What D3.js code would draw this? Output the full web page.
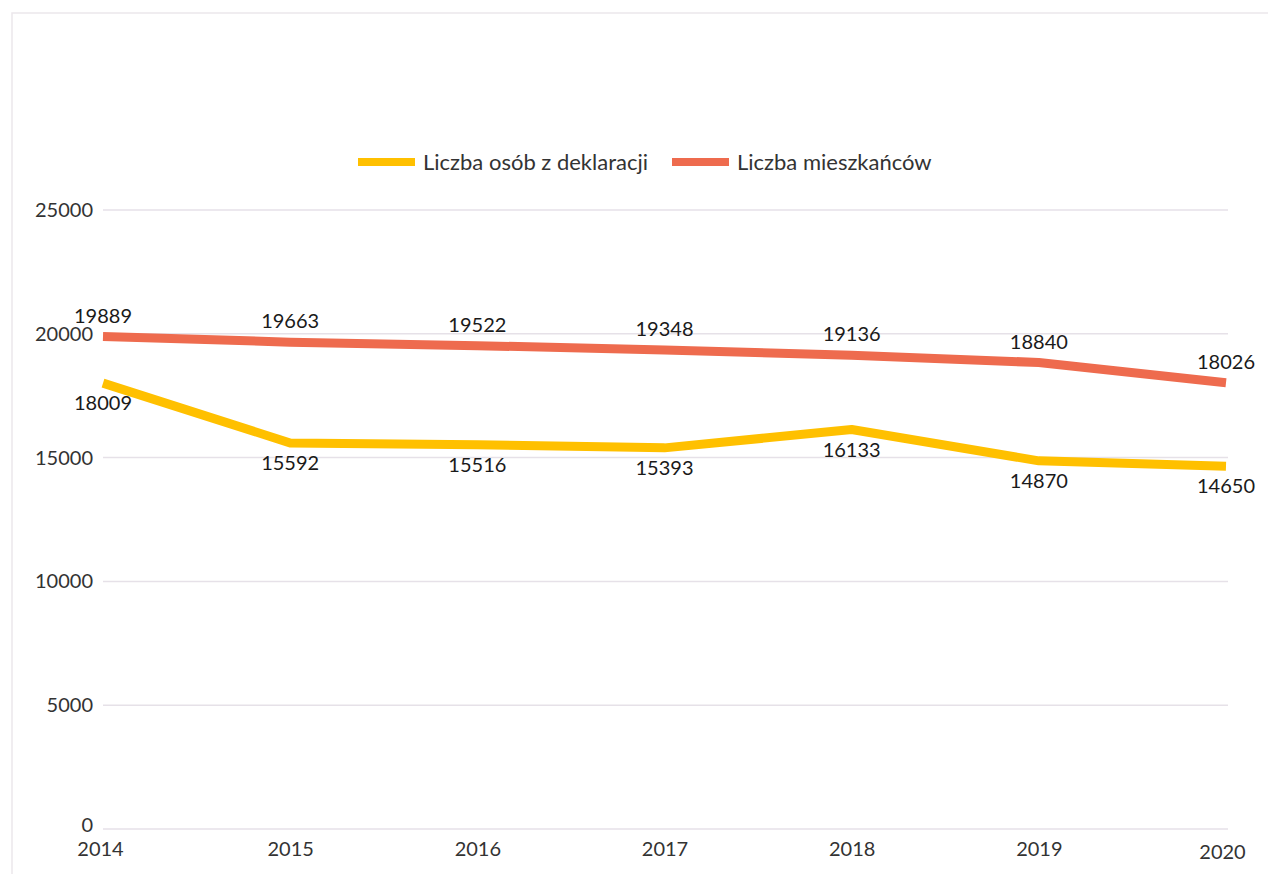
<!DOCTYPE html>
<html><head><meta charset="utf-8">
<script src="https://cdn.jsdelivr.net/npm/d3@7"></script>
<style>
html,body{margin:0;padding:0;background:#fff;}
svg{display:block;font-family:Lato,"Open Sans",sans-serif;}
</style></head>
<body>
<svg id="chart" width="1268" height="874"></svg>
<script>
const years = [2014, 2015, 2016, 2017, 2018, 2019, 2020];
const declarations = [18009, 15592, 15516, 15393, 16133, 14870, 14650];
const residents = [19889, 19663, 19522, 19348, 19136, 18840, 18026];
const yTicks = [0, 5000, 10000, 15000, 20000, 25000];
const seriesNames = ["Liczba osób z deklaracji", "Liczba mieszkańców"];
const seriesColors = ["#FFC000", "#EE6B4E"];

const svg = d3.select("#chart");
// faint scan frame
svg.append("path").attr("d","M12,874 L12,13 L1268,13").attr("fill","none").attr("stroke","#ece7ec").attr("stroke-width",1.5);

const x = d3.scalePoint().domain(years).range([103, 1226]);
const y = d3.scaleLinear().domain([0, 25000]).range([829, 210]);

// gridlines
svg.append("g").selectAll("line").data(yTicks).join("line")
  .attr("x1", 103).attr("x2", 1228)
  .attr("y1", d => y(d)).attr("y2", d => y(d))
  .attr("stroke", "#e6e1e8").attr("stroke-width", 1.5);

// y axis labels
const yAxis = d3.axisLeft(y).tickValues(yTicks).tickSize(0).tickPadding(0).tickFormat(d3.format("d"));
const gy = svg.append("g").attr("transform","translate(93,0)").call(yAxis);
gy.select(".domain").remove();
gy.selectAll("text").attr("font-size", 20).attr("fill", "#333").attr("font-family","Lato")
  .attr("dy", d => d === 0 ? "0.1em" : "0.32em");

// x axis labels
const xAxis = d3.axisBottom(x).tickSize(0).tickPadding(0).tickFormat(d3.format("d"));
const gx = svg.append("g").attr("transform","translate(0,842)").call(xAxis);
gx.select(".domain").remove();
gx.selectAll("text").attr("font-size", 20).attr("fill", "#333").attr("font-family","Lato")
  .attr("dx", d => d === 2014 ? -3 : (d === 2020 ? -4 : 0))
  .attr("dy", d => d === 2020 ? "0.85em" : "0.71em");

const line = d3.line().x((d, i) => x(years[i])).y(d => y(d));
const series = [declarations, residents];
series.forEach((s, k) => {
  svg.append("path").datum(s).attr("d", line)
    .attr("fill", "none").attr("stroke", seriesColors[k]).attr("stroke-width", 9)
    .attr("stroke-linejoin", "round").attr("stroke-linecap", "butt");
});

// data labels
svg.append("g").selectAll("text").data(residents).join("text")
  .attr("x", (d, i) => x(years[i]))
  .attr("y", d => y(d) - 21)
  .attr("dy", "0.35em").attr("text-anchor", "middle")
  .attr("font-size", 20).attr("fill", "#1a1a1a").text(d => d);
svg.append("g").selectAll("text").data(declarations).join("text")
  .attr("x", (d, i) => x(years[i]))
  .attr("y", d => y(d) + 20)
  .attr("dy", "0.35em").attr("text-anchor", "middle")
  .attr("font-size", 20).attr("fill", "#1a1a1a").text(d => d);

// legend
const legendX = [358, 672];
const lg = svg.append("g");
seriesNames.forEach((n, k) => {
  lg.append("line").attr("x1", legendX[k]).attr("x2", legendX[k] + 57)
    .attr("y1", 162).attr("y2", 162).attr("stroke", seriesColors[k]).attr("stroke-width", 8);
  lg.append("text").attr("x", legendX[k] + 65).attr("y", 162).attr("dy", "0.35em")
    .attr("font-size", 22).attr("fill", "#333").text(n);
});
</script>
</body></html>
